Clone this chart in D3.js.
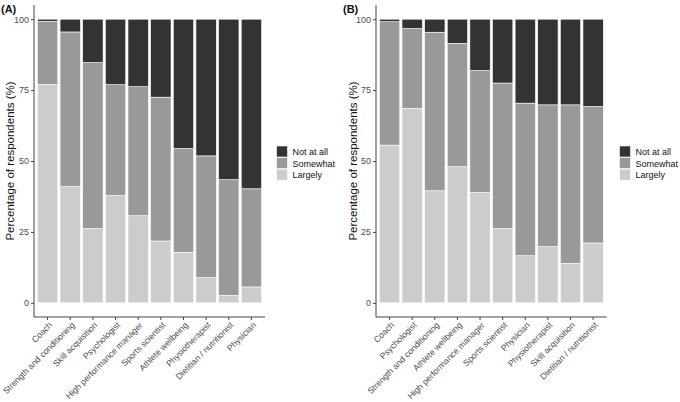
<!DOCTYPE html>
<html>
<head>
<meta charset="utf-8">
<script src="https://cdn.jsdelivr.net/npm/d3@7"></script>
<style>
  body { margin: 0; background: #fff; }
  svg { display: block; font-family: "Liberation Sans", Arial, sans-serif; }
</style>
</head>
<body>
<svg id="chart" width="680" height="402"></svg>
<script>
// panel A
var catsA = ["Coach", "Strength and conditioning", "Skill acquisition", "Psychologist",
  "High performance manager", "Sports scientist", "Athlete wellbeing", "Physiotherapist",
  "Dietitian / nutritionist", "Physician"]
var largelyA  = [77.0, 41.0, 26.2, 37.8, 30.7, 21.8, 17.8, 8.9, 2.6, 5.6]
var somewhatA = [22.2, 54.5, 58.5, 39.1, 45.5, 50.7, 36.6, 42.9, 40.8, 34.6]
var notAtAllA = [0.8, 4.5, 15.3, 23.1, 23.8, 27.5, 45.6, 48.2, 56.6, 59.8]

// panel B
var catsB = ["Coach", "Psychologist", "Strength and conditioning", "Athlete wellbeing",
  "High performance manager", "Sports scientist", "Physician", "Physiotherapist",
  "Skill acquisition", "Dietitian / nutritionist"]
var largelyB  = [55.6, 68.6, 39.5, 48.0, 38.9, 26.2, 16.6, 19.8, 13.9, 21.1]
var somewhatB = [43.5, 28.1, 55.9, 43.5, 43.0, 51.3, 53.8, 50.0, 55.9, 48.1]
var notAtAllB = [0.9, 3.3, 4.6, 8.5, 18.1, 22.5, 29.6, 30.2, 30.2, 30.8]

var levels = ["Largely", "Somewhat", "Not at all"]
var legendOrder = ["Not at all", "Somewhat", "Largely"]
var yTicks = [0, 25, 50, 75, 100]
var fills = {"Largely": "#cccccc", "Somewhat": "#999999", "Not at all": "#333333"}

var svg = d3.select("#chart")
var textGrey = "#4d4d4d"

function drawPanel(opts) {
    var rows = opts.cats.map(function(c, i) {
        return {cat: c, "Largely": opts.largely[i], "Somewhat": opts.somewhat[i], "Not at all": opts.notAtAll[i]}
    })
    var stacked = d3.stack().keys(levels)(rows)

    var x = d3.scaleBand()
        .domain(opts.cats)
        .range([opts.left, opts.right])
        .paddingInner(0.1)
        .paddingOuter(0.15)
    var y = d3.scaleLinear().domain([-5, 105]).range([317, 5])

    var g = svg.append("g")

    g.selectAll("g.layer").data(stacked)
        .enter()
        .append("g")
        .attr("class", "layer")
        .attr("fill", function(d) { return fills[d.key] })
        .selectAll("rect").data(function(d) { return d })
        .enter()
        .append("rect")
        .attr("x", function(d) { return x(d.data.cat) })
        .attr("width", x.bandwidth())
        .attr("y", function(d) { return y(d[1]) })
        .attr("height", function(d) { return y(d[0]) - y(d[1]) })
        .style("stroke", "#ffffff")
        .style("stroke-width", 0.6)

    // y axis
    var yAxis = g.append("g")
        .attr("transform", "translate(" + opts.left + ",0)")
        .call(d3.axisLeft(y).tickValues(yTicks).tickSize(3).tickPadding(2))
    yAxis.select(".domain").attr("d", "M0," + y(-5) + "V" + y(105)).attr("stroke", "#444")
    yAxis.selectAll(".tick line").attr("stroke", "#444")
    yAxis.selectAll("text").attr("fill", textGrey).style("font-size", "9px")

    // x axis
    var xAxis = g.append("g")
        .attr("transform", "translate(0," + y(-5) + ")")
        .call(d3.axisBottom(x).tickSize(3).tickSizeOuter(0))
    xAxis.select(".domain").attr("d", "M" + opts.left + ",0H" + opts.right).attr("stroke", "#444")
    xAxis.selectAll(".tick line").attr("stroke", "#444")
    xAxis.selectAll("text")
        .attr("fill", textGrey)
        .style("font-size", "8.6px")
        .attr("text-anchor", "end")
        .attr("dy", "0.35em")
        .attr("transform", "translate(3,6.5) rotate(-45)")
        .attr("y", 0)
        .attr("x", 0)

    // y title
    g.append("text")
        .attr("transform", "translate(" + opts.titleX + "," + ((y(-5) + y(105)) / 2) + ") rotate(-90)")
        .attr("text-anchor", "middle")
        .attr("dy", "0.35em")
        .style("font-size", "11.5px")
        .attr("fill", "#111")
        .text("Percentage of respondents (%)")

    // panel tag
    g.append("text")
        .attr("x", opts.tagX)
        .attr("y", 13)
        .style("font-size", "11px")
        .style("font-weight", "bold")
        .attr("fill", "#111")
        .text(opts.tag)

    // legend
    var leg = g.append("g").attr("transform", "translate(" + opts.legX + ",146)")
    leg.selectAll("rect").data(legendOrder)
        .enter()
        .append("rect")
        .attr("x", 0)
        .attr("y", function(d, i) { return i * 11.6 })
        .attr("width", 11)
        .attr("height", 11)
        .attr("fill", function(d) { return fills[d] })
        .style("stroke", "#fff")
        .style("stroke-width", 0.6)
    leg.selectAll("text").data(legendOrder)
        .enter()
        .append("text")
        .attr("x", 16)
        .attr("y", function(d, i) { return i * 11.6 + 5.8 })
        .attr("dy", "0.35em")
        .style("font-size", "9px")
        .attr("fill", "#111")
        .text(function(d) { return d })
}

drawPanel({cats: catsA, largely: largelyA, somewhat: somewhatA, notAtAll: notAtAllA,
    left: 34, right: 265, titleX: 10, tagX: 1, tag: "(A)", legX: 276.5})
drawPanel({cats: catsB, largely: largelyB, somewhat: somewhatB, notAtAll: notAtAllB,
    left: 376, right: 606.7, titleX: 353, tagX: 343, tag: "(B)", legX: 619.5})
</script>
</body>
</html>
